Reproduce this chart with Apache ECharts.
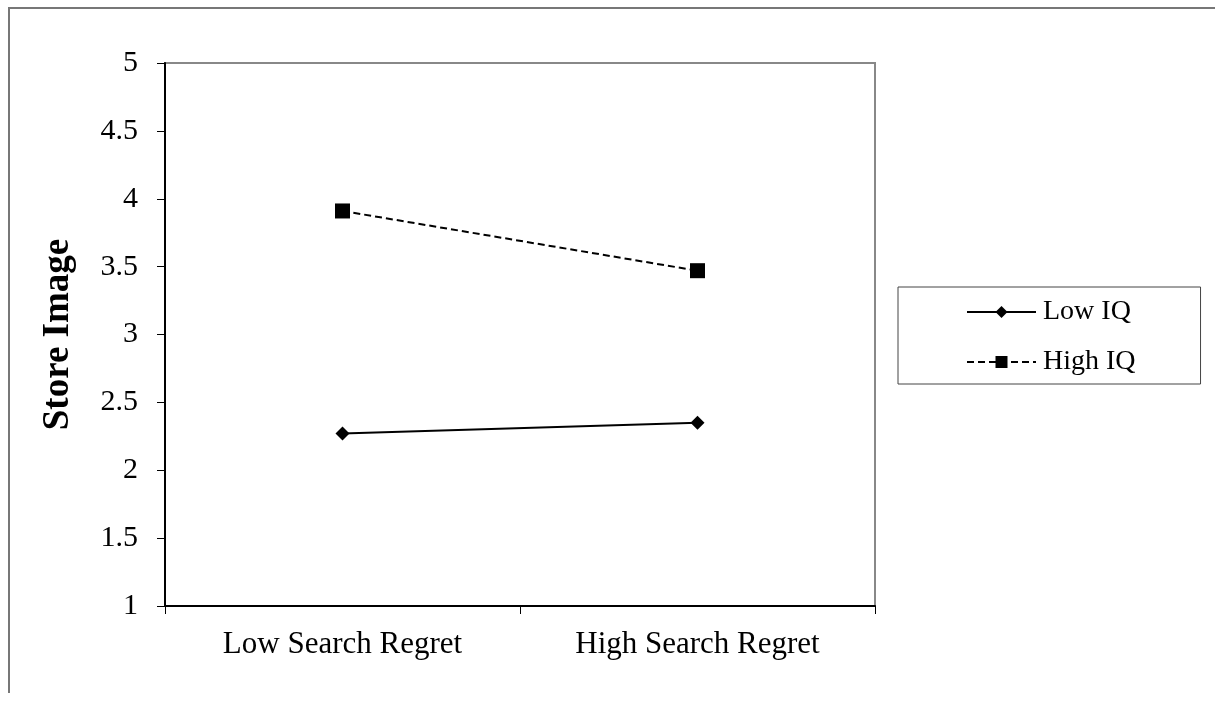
<!DOCTYPE html>
<html>
<head>
<meta charset="utf-8">
<script src="https://cdn.jsdelivr.net/npm/echarts@6/dist/echarts.min.js"></script>
<style>
  html, body { margin: 0; padding: 0; background: #fff; }
  .frame {
    position: absolute; left: 8px; top: 7px; width: 1206px; height: 684px;
    border-left: 2px solid #777; border-top: 2px solid #777;
  }
  .chart { position: absolute; left: 0; top: 0; width: 1215px; height: 707px; }
</style>
</head>
<body>
<div class="frame"></div>
<div id="chart" class="chart"></div>
<script>
// data
const categories = ['Low Search Regret', 'High Search Regret']
const lowIQ = [2.27, 2.35]
const highIQ = [3.91, 3.47]
const seriesNames = ['Low IQ', 'High IQ']

const chart = echarts.init(document.getElementById('chart'))
const font = '"Liberation Serif", "Times New Roman", serif'

const option = {
  animation: false,
  textStyle: { fontFamily: font, color: '#000' },
  grid: {
    left: 165, top: 63, width: 710, height: 543,
    show: true, borderColor: '#888', borderWidth: 2
  },
  legend: {
    data: seriesNames,
    orient: 'vertical',
    left: 898, top: 287,
    padding: [11, 65, 8, 68],
    itemWidth: 69, itemHeight: 15, itemGap: 22,
    borderColor: '#444', borderWidth: 1,
    textStyle: { fontFamily: font, fontSize: 28, color: '#000', padding: [0, 0, 0, 2] }
  },
  xAxis: {
    type: 'category',
    data: categories,
    boundaryGap: true,
    axisLine: { lineStyle: { color: '#000', width: 2 } },
    axisTick: { show: true, length: 8, lineStyle: { color: '#000', width: 1 } },
    axisLabel: { fontFamily: font, fontSize: 31, color: '#000', margin: 23 }
  },
  yAxis: {
    type: 'value',
    min: 1, max: 5, interval: 0.5,
    name: 'Store Image',
    nameLocation: 'middle',
    nameGap: 88,
    nameTextStyle: { fontFamily: font, fontSize: 37, fontWeight: 'bold', color: '#000' },
    axisLine: { show: true, lineStyle: { color: '#000', width: 2 } },
    axisTick: { show: true, length: 8, lineStyle: { color: '#000', width: 1 } },
    splitLine: { show: false },
    axisLabel: { fontFamily: font, fontSize: 30, color: '#000', margin: 27 }
  },
  series: [
    {
      name: seriesNames[0],
      type: 'line',
      data: lowIQ,
      symbol: 'diamond',
      symbolSize: 14,
      itemStyle: { color: '#000' },
      lineStyle: { color: '#000', width: 2, type: 'solid' }
    },
    {
      name: seriesNames[1],
      type: 'line',
      data: highIQ,
      symbol: 'rect',
      symbolSize: 15,
      itemStyle: { color: '#000' },
      lineStyle: { color: '#000', width: 2, type: [7, 4] }
    }
  ]
}

chart.setOption(option)
</script>
</body>
</html>
